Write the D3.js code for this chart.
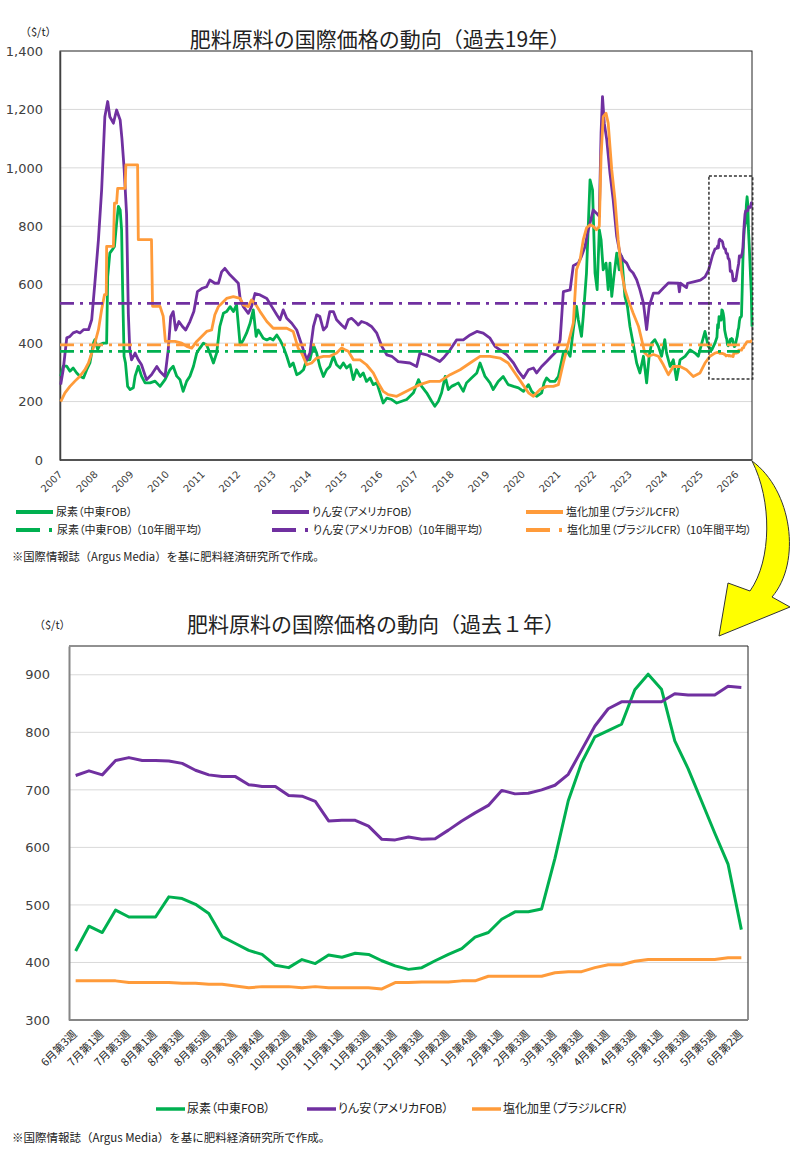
<!DOCTYPE html>
<html>
  <head>
    <meta charset="utf-8">
    <title>肥料原料の国際価格の動向</title>
    <style>
      body { margin: 0; background: #fff; }
      svg text { font-family: 'Noto Sans CJK JP', sans-serif; fill: #222; }
      svg text.num { font-family: 'DejaVu Sans', sans-serif; fill: #404040; }
      svg text.pal { font-feature-settings: "palt" 1; }
    </style>
  </head>
  <body>
    <svg id="svg" width="800" height="1164"></svg>
    <script src="https://cdn.jsdelivr.net/npm/d3@7"></script>
    <script>
      // ---- data: past 19 years, [decimal year, $/t] ----
      const ureaHist = [[2007.02,287],[2007.09,321],[2007.19,321],[2007.28,304],[2007.37,315],[2007.47,298],[2007.56,287],[2007.66,281],[2007.75,309],[2007.84,332],[2007.94,400],[2007.98,412],[2008.06,378],[2008.12,395],[2008.22,400],[2008.31,400],[2008.34,628],[2008.40,708],[2008.47,720],[2008.53,731],[2008.59,811],[2008.64,868],[2008.69,856],[2008.73,788],[2008.76,583],[2008.80,355],[2008.84,332],[2008.90,252],[2008.97,241],[2009.06,247],[2009.11,287],[2009.20,321],[2009.29,287],[2009.39,264],[2009.53,264],[2009.67,270],[2009.81,252],[2009.95,275],[2010.09,309],[2010.18,321],[2010.28,287],[2010.37,275],[2010.46,235],[2010.56,270],[2010.65,287],[2010.75,321],[2010.84,366],[2010.93,383],[2011.03,400],
        [2011.12,394],[2011.21,366],[2011.31,332],[2011.40,366],[2011.49,457],[2011.59,502],[2011.68,508],[2011.78,525],[2011.87,508],[2011.96,531],[2012.06,394],[2012.15,411],[2012.24,434],[2012.34,468],[2012.43,514],[2012.51,423],[2012.57,445],[2012.71,417],[2012.81,411],[2012.90,417],[2012.99,411],[2013.09,428],[2013.18,411],[2013.27,389],[2013.37,355],[2013.46,320],[2013.55,332],[2013.65,292],[2013.74,298],[2013.84,309],[2013.93,343],[2014.02,343],[2014.12,394],[2014.21,366],[2014.30,320],[2014.40,286],[2014.49,309],[2014.58,320],[2014.68,355],[2014.77,326],[2014.87,315],[2014.96,332],[2015.05,315],[2015.15,326],[2015.24,275],[2015.33,309],[2015.43,286],[2015.52,298],[2015.61,269],[2015.71,281],[2015.80,258],[2015.90,264],[2015.99,230],[2016.08,195],[2016.18,212],[2016.32,207],[2016.46,195],
        [2016.74,207],[2016.93,230],[2017.07,275],[2017.16,252],[2017.30,230],[2017.44,201],[2017.53,184],[2017.63,201],[2017.72,230],[2017.82,286],[2017.91,241],[2018.00,252],[2018.10,258],[2018.19,264],[2018.33,235],[2018.42,264],[2018.56,281],[2018.71,298],[2018.80,332],[2018.94,286],[2019.08,264],[2019.17,241],[2019.31,269],[2019.45,286],[2019.59,258],[2019.74,252],[2019.88,247],[2020.02,235],[2020.16,258],[2020.25,235],[2020.39,218],[2020.53,230],[2020.60,264],[2020.67,281],[2020.77,269],[2020.90,269],[2021.00,286],[2021.14,366],[2021.23,378],[2021.33,355],[2021.42,446],[2021.51,526],[2021.56,480],[2021.65,423],[2021.70,492],[2021.79,640],[2021.89,959],[2021.96,925],[2022.03,640],[2022.09,583],[2022.15,788],[2022.20,754],[2022.26,651],[2022.34,674],[2022.40,583],[2022.45,674],[2022.50,560],[2022.56,628],[2022.64,708],[2022.71,651],[2022.78,697],[2022.87,560],[2022.94,526],[2023.01,458],[2023.10,400],[2023.20,332],[2023.29,298],[2023.39,355],[2023.48,264],[2023.55,355],[2023.62,400],[2023.71,412],[2023.81,389],[2023.90,355],[2023.99,412],[2024.04,366],[2024.14,320],[2024.23,343],[2024.32,275],[2024.42,343],[2024.56,355],[2024.70,377],[2024.84,366],[2024.93,355],[2025.03,400],[2025.12,440],[2025.21,389],[2025.31,377],[2025.40,400]];

      const dapHist = [[2007.02,258],[2007.09,309],[2007.19,418],[2007.28,423],[2007.37,435],[2007.47,440],[2007.56,435],[2007.66,446],[2007.80,446],[2007.89,480],[2007.98,606],[2008.08,754],[2008.17,925],[2008.26,1175],[2008.34,1227],[2008.40,1175],[2008.50,1153],[2008.59,1198],[2008.69,1164],[2008.74,1100],[2008.80,1000],[2008.87,843],[2008.92,500],[2008.96,377],[2009.01,343],[2009.11,366],[2009.20,343],[2009.29,326],[2009.43,275],[2009.57,292],[2009.72,320],[2009.81,303],[2009.95,286],[2010.04,377],[2010.11,491],[2010.18,508],[2010.25,445],[2010.34,474],[2010.44,457],[2010.53,445],[2010.65,474],[2010.76,508],[2010.86,576],[2011.00,588],
        [2011.12,593],[2011.21,616],[2011.35,605],[2011.45,605],[2011.54,644],[2011.63,656],[2011.78,633],[2011.92,616],[2012.01,605],[2012.06,553],[2012.15,525],[2012.29,502],[2012.38,525],[2012.48,570],[2012.62,565],[2012.81,553],[2012.95,525],[2013.09,497],[2013.18,480],[2013.27,514],[2013.37,485],[2013.51,468],[2013.65,445],[2013.79,394],[2013.93,343],[2014.02,366],[2014.12,457],[2014.21,497],[2014.30,491],[2014.40,445],[2014.49,457],[2014.58,508],[2014.68,508],[2014.77,480],[2014.91,462],[2015.01,451],[2015.10,480],[2015.19,485],[2015.29,474],[2015.38,462],[2015.47,474],[2015.61,468],[2015.75,457],[2015.90,434],[2016.04,389],[2016.18,360],[2016.32,355],[2016.50,337],
        [2016.83,332],[2017.02,320],[2017.11,366],[2017.30,360],[2017.49,349],[2017.67,337],[2017.77,349],[2017.96,377],[2018.14,411],[2018.33,411],[2018.52,428],[2018.71,440],[2018.89,434],[2019.08,417],[2019.22,389],[2019.36,377],[2019.55,360],[2019.74,332],[2019.88,303],[2020.02,281],[2020.16,309],[2020.30,315],[2020.39,298],[2020.53,320],[2020.67,337],[2020.81,355],[2020.95,372],[2021.05,411],[2021.14,576],[2021.33,582],[2021.42,665],[2021.56,674],[2021.65,697],[2021.75,731],[2021.84,788],[2021.89,811],[2021.98,856],[2022.07,845],[2022.15,834],[2022.20,1118],[2022.24,1244],[2022.29,1153],[2022.36,1096],[2022.45,982],[2022.54,891],[2022.64,765],[2022.73,708],[2022.82,685],[2022.92,674],[2023.01,651],[2023.10,640],[2023.20,617],[2023.29,583],[2023.39,537],[2023.48,446],[2023.55,526],[2023.67,571],[2023.81,571],[2023.95,589],[2024.09,606],[2024.37,605],[2024.40,576],[2024.43,605],[2024.60,590],[2024.63,605],[2024.80,610],[2024.99,616],[2025.12,627],[2025.22,650],[2025.33,700],[2025.40,722]];

      const potashHist = [[2007.02,200],[2007.14,230],[2007.28,252],[2007.42,270],[2007.56,287],[2007.70,309],[2007.80,332],[2007.89,366],[2007.98,400],[2008.08,446],[2008.17,515],[2008.25,566],[2008.30,566],[2008.31,731],[2008.50,731],[2008.53,879],[2008.59,879],[2008.62,930],[2008.83,930],[2008.85,1010],[2009.18,1010],[2009.20,754],[2009.57,754],[2009.60,526],[2009.81,526],[2009.90,492],[2009.96,406],[2010.23,406],[2010.42,400],[2010.56,389],[2010.70,383],[2010.84,406],[2010.98,423],
        [2011.12,440],[2011.26,445],[2011.35,497],[2011.45,525],[2011.54,536],[2011.68,553],[2011.87,559],[2012.06,553],[2012.15,531],[2012.29,525],[2012.38,548],[2012.48,536],[2012.62,508],[2012.81,474],[2012.99,451],[2013.37,451],[2013.55,440],[2013.69,383],[2013.79,366],[2013.93,326],[2014.07,332],[2014.21,349],[2014.40,355],[2014.58,355],[2014.77,366],[2014.91,383],[2015.01,377],[2015.10,372],[2015.24,343],[2015.43,343],[2015.61,326],[2015.80,298],[2015.94,264],[2016.08,235],[2016.22,224],[2016.46,218],
        [2016.83,241],[2017.11,258],[2017.39,269],[2017.67,269],[2017.96,292],[2018.24,309],[2018.52,332],[2018.80,355],[2019.08,355],[2019.36,349],[2019.59,332],[2019.78,298],[2019.97,264],[2020.16,230],[2020.30,218],[2020.48,241],[2020.67,252],[2020.86,252],[2021.00,258],[2021.14,332],[2021.28,400],[2021.42,469],[2021.51,651],[2021.61,685],[2021.70,754],[2021.79,794],[2021.89,805],[2021.98,800],[2022.07,788],[2022.15,800],[2022.20,1039],[2022.26,1175],[2022.34,1187],[2022.40,1153],[2022.50,993],[2022.59,891],[2022.68,754],[2022.78,640],[2022.87,583],[2022.96,549],[2023.10,503],[2023.25,458],[2023.34,412],[2023.43,366],[2023.53,355],[2023.67,361],[2023.81,355],[2023.95,326],[2024.09,292],[2024.23,320],[2024.42,320],[2024.60,309],[2024.79,286],[2024.98,298],[2025.12,332],[2025.26,355],[2025.40,366]];

      // 10-year averages ($/t)
      const ureaAvg = 372;
      const dapAvg = 536;
      const potashAvg = 394;
      const avgSpan = [2007, 2026.1];

      // ---- data: past 1 year, weekly ----
      const weekTickLabels = ['6月第3週','7月第1週','7月第3週','8月第1週','8月第3週','8月第5週','9月第2週','9月第4週','10月第2週','10月第4週','11月第1週','11月第3週','12月第1週','12月第3週','1月第2週','1月第4週','2月第1週','2月第3週','3月第1週','3月第3週','4月第1週','4月第3週','5月第1週','5月第3週','5月第5週','6月第2週'];
      const ureaWeek = [420,463,452,491,479,479,479,514,511,501,485,445,433,421,414,395,391,405,398,413,409,416,414,403,394,388,391,403,414,424,444,452,475,488,488,493,581,681,747,792,803,814,874,901,875,785,737,681,625,571,457];
      const dapWeek = [725,733,726,751,756,751,751,750,746,734,726,723,723,709,706,706,690,689,680,646,647,647,637,614,613,618,614,615,630,646,660,673,699,693,694,700,708,727,769,811,841,853,853,853,853,867,865,865,865,880,878];
      const potashWeek = [368,368,368,368,365,365,365,365,364,364,362,362,359,356,358,358,358,356,358,356,356,356,356,354,365,365,366,366,366,368,368,376,376,376,376,376,382,384,384,391,396,396,402,405,405,405,405,405,405,408,408];
      const weekSpan = [2025.455, 2026.44]; // first and last week as decimal years

      const yearTicks = [2007,2008,2009,2010,2011,2012,2013,2014,2015,2016,2017,2018,2019,2020,2021,2022,2023,2024,2025,2026];
      const topYTicks = [0,200,400,600,800,1000,1200,1400];
      const bottomYTicks = [300,400,500,600,700,800,900];

      const names = ['尿素（中東FOB）','りん安（アメリカFOB）','塩化加里（ブラジルCFR）'];
      const colors = ['#00B050','#7030A0','#FF9B3A'];
      const source = '※国際情報誌（Argus Media）を基に肥料経済研究所で作成。';

      const svg = d3.select('#svg');

      // ================= top chart =================
      const area1 = { left: 60, right: 752, top: 51, bottom: 460 };
      const x1 = d3.scaleLinear().domain([2007, weekSpan[1]]).range([area1.left, area1.right]);
      const y1 = d3.scaleLinear().domain([0, 1400]).range([area1.bottom, area1.top]);

      // last-year weekly points continue the long series
      const weekYear = d3.scaleLinear().domain([0, ureaWeek.length - 1]).range(weekSpan);
      const toPairs = (arr) => arr.map((v, i) => [weekYear(i), v]);
      const topSeries = [
        ureaHist.concat(toPairs(ureaWeek)),
        dapHist.concat(toPairs(dapWeek)),
        potashHist.concat(toPairs(potashWeek))
      ];

      const g1 = svg.append('g');
      g1.selectAll('line.grid')
        .data(topYTicks.slice(1, -1))
        .enter()
        .append('line')
        .attr('x1', area1.left)
        .attr('x2', area1.right)
        .attr('y1', (d) => y1(d))
        .attr('y2', (d) => y1(d))
        .attr('stroke', '#d9d9d9')
        .attr('stroke-width', 1);

      g1.append('rect')
        .attr('x', area1.left)
        .attr('y', area1.top)
        .attr('width', area1.right - area1.left)
        .attr('height', area1.bottom - area1.top)
        .attr('fill', 'none')
        .attr('stroke', '#222')
        .attr('stroke-width', 1);

      const yAxis1 = g1.append('g')
        .attr('transform', `translate(${area1.left},0)`)
        .call(d3.axisLeft(y1).tickValues(topYTicks).tickSize(0).tickPadding(17).tickFormat(d3.format(',')));
      yAxis1.select('.domain').attr('stroke', '#404040').attr('stroke-width', 1.5);
      yAxis1.selectAll('text').attr('class', 'num').style('font-size', '13px');

      g1.append('line')
        .attr('x1', area1.left).attr('x2', area1.right)
        .attr('y1', area1.bottom).attr('y2', area1.bottom)
        .attr('stroke', '#404040').attr('stroke-width', 1.5);

      g1.selectAll('text.year')
        .data(yearTicks)
        .enter()
        .append('text')
        .attr('class', 'num')
        .attr('text-anchor', 'end')
        .attr('transform', (d) => `translate(${x1(d) + 3},${area1.bottom + 15}) rotate(-45)`)
        .style('font-size', '10px')
        .text((d) => d);

      const line1 = d3.line().x((d) => x1(d[0])).y((d) => y1(d[1]));
      g1.selectAll('path.series')
        .data(topSeries)
        .enter()
        .append('path')
        .attr('d', line1)
        .attr('fill', 'none')
        .attr('stroke', (d, i) => colors[i])
        .attr('stroke-width', 2.8)
        .attr('stroke-linejoin', 'round');

      g1.selectAll('line.avg')
        .data([ureaAvg, dapAvg, potashAvg])
        .enter()
        .append('line')
        .attr('x1', x1(avgSpan[0]))
        .attr('x2', x1(avgSpan[1]))
        .attr('y1', (d) => y1(d))
        .attr('y2', (d) => y1(d))
        .attr('stroke', (d, i) => colors[i])
        .attr('stroke-width', 2.8)
        .attr('stroke-dasharray', '14,6,3,6');

      // dashed frame around the last year
      g1.append('rect')
        .attr('x', x1(2025.23))
        .attr('y', y1(972))
        .attr('width', x1(2026.46) - x1(2025.23))
        .attr('height', y1(277) - y1(972))
        .attr('fill', 'none')
        .attr('stroke', '#333')
        .attr('stroke-width', 1.5)
        .attr('stroke-dasharray', '3,2');

      svg.append('text')
        .attr('x', 380).attr('y', 47)
        .attr('text-anchor', 'middle')
        .style('font-size', '21px')
        .text('肥料原料の国際価格の動向（過去19年）');
      svg.append('text')
        .attr('x', 20).attr('y', 36)
        .style('font-size', '11px')
        .text('（$/t）');

      // legend (two rows)
      const legX = [16, 272, 526];
      const leg = svg.append('g');
      names.forEach((n, i) => {
        leg.append('line')
          .attr('x1', legX[i]).attr('x2', legX[i] + 37)
          .attr('y1', 512).attr('y2', 512)
          .attr('stroke', colors[i]).attr('stroke-width', 4);
        leg.append('text')
          .attr('class', 'pal')
          .attr('x', legX[i] + 40).attr('y', 512).attr('dy', '0.35em')
          .style('font-size', '11px')
          .text(n);
        leg.append('line')
          .attr('x1', legX[i]).attr('x2', legX[i] + 36)
          .attr('y1', 530).attr('y2', 530)
          .attr('stroke', colors[i]).attr('stroke-width', 4)
          .attr('stroke-dasharray', '24,9,3,20');
        leg.append('text')
          .attr('class', 'pal')
          .attr('x', legX[i] + 41).attr('y', 530).attr('dy', '0.35em')
          .style('font-size', '11px')
          .text(n + ' （10年間平均）');
      });
      svg.append('text')
        .attr('x', 12).attr('y', 557).attr('dy', '0.35em')
        .style('font-size', '11.3px')
        .text(source);

      // curved yellow arrow pointing to the lower chart
      svg.append('path')
        .attr('d', 'M752,461 C792,490 802,562 772,597 L790,607 L719,636 L728,583 L750,591 C772,560 772,500 752,461 Z')
        .attr('fill', '#FFFF00')
        .attr('stroke', '#333')
        .attr('stroke-width', 1);

      // ================= bottom chart =================
      const area2 = { left: 69, right: 748, top: 646, bottom: 1020 };
      const x2 = d3.scaleBand().domain(d3.range(ureaWeek.length)).range([area2.left, area2.right]);
      const cx = (i) => x2(i) + x2.bandwidth() / 2;
      const y2 = d3.scaleLinear().domain([300, 950]).range([area2.bottom, area2.top]);

      const g2 = svg.append('g');
      g2.selectAll('line.grid')
        .data(bottomYTicks.slice(1))
        .enter()
        .append('line')
        .attr('x1', area2.left).attr('x2', area2.right)
        .attr('y1', (d) => y2(d)).attr('y2', (d) => y2(d))
        .attr('stroke', '#d9d9d9').attr('stroke-width', 1);

      g2.append('path')
        .attr('d', `M${area2.left},${area2.top} H${area2.right} V${area2.bottom}`)
        .attr('fill', 'none').attr('stroke', '#222').attr('stroke-width', 1);

      const yAxis2 = g2.append('g')
        .attr('transform', `translate(${area2.left},0)`)
        .call(d3.axisLeft(y2).tickValues(bottomYTicks).tickSize(0).tickPadding(19));
      yAxis2.select('.domain').attr('stroke', '#868686').attr('stroke-width', 2);
      yAxis2.selectAll('text').attr('class', 'num').style('font-size', '13px');

      g2.append('line')
        .attr('x1', area2.left).attr('x2', area2.right)
        .attr('y1', area2.bottom).attr('y2', area2.bottom)
        .attr('stroke', '#868686').attr('stroke-width', 2);

      g2.selectAll('text.week')
        .data(weekTickLabels)
        .enter()
        .append('text')
        .attr('text-anchor', 'end')
        .attr('transform', (d, i) => `translate(${cx(i * 2) + 2},${area2.bottom + 15}) rotate(-45)`)
        .style('font-size', '11px')
        .text((d) => d);

      const line2 = d3.line().x((d, i) => cx(i)).y((d) => y2(d));
      g2.selectAll('path.series')
        .data([ureaWeek, dapWeek, potashWeek])
        .enter()
        .append('path')
        .attr('d', line2)
        .attr('fill', 'none')
        .attr('stroke', (d, i) => colors[i])
        .attr('stroke-width', 3)
        .attr('stroke-linejoin', 'round');

      svg.append('text')
        .attr('x', 376).attr('y', 632)
        .attr('text-anchor', 'middle')
        .style('font-size', '21px')
        .text('肥料原料の国際価格の動向（過去１年）');
      svg.append('text')
        .attr('x', 34).attr('y', 629)
        .style('font-size', '11px')
        .text('（$/t）');

      const leg2X = [156, 307, 472];
      names.forEach((n, i) => {
        svg.append('line')
          .attr('x1', leg2X[i]).attr('x2', leg2X[i] + 29)
          .attr('y1', 1109).attr('y2', 1109)
          .attr('stroke', colors[i]).attr('stroke-width', 3.5);
        svg.append('text')
          .attr('class', 'pal')
          .attr('x', leg2X[i] + 31).attr('y', 1109).attr('dy', '0.35em')
          .style('font-size', '12px')
          .text(n);
      });
      svg.append('text')
        .attr('x', 12).attr('y', 1138).attr('dy', '0.35em')
        .style('font-size', '11.5px')
        .text(source);
    </script>
  </body>
</html>
